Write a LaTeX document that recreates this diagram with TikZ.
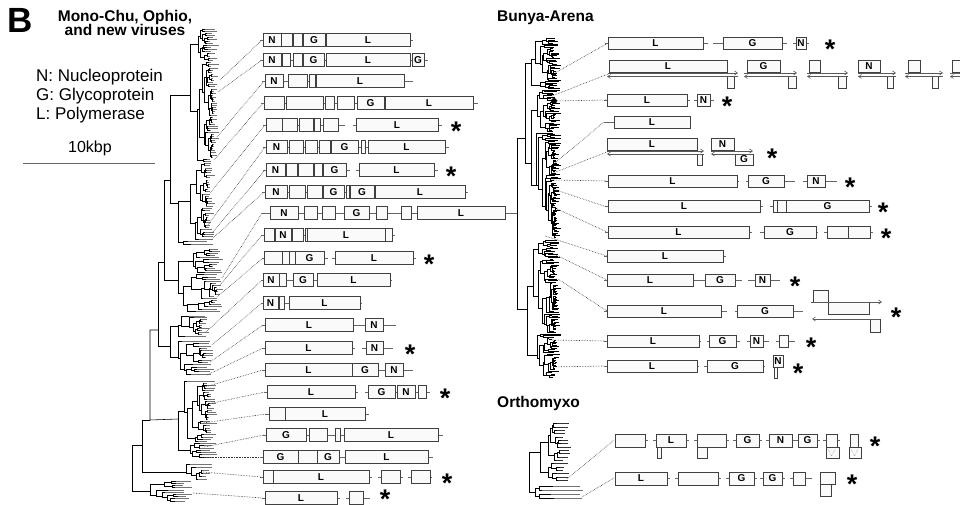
\documentclass[tikz,border=0pt]{standalone}
\usepackage{fontspec}
\setmainfont{Liberation Sans}
\usetikzlibrary{arrows.meta}
\newcount\gcnt
\def\gh{6.5}
\def\tipjit{10}
\newcommand\gbxr[5]{\global\advance\gcnt by 1\relax
  \draw[gbox] (#1,#3) rectangle (#2,#4);
  \node[glab] (g\the\gcnt) at ({(#1+#2)/2},{(#3+#4)/2}) {#5};}
\newcommand\gbx[4]{\gbxr{#1}{#2}{#3-\gh}{#3+\gh}{#4}}
\newcommand\gln[3]{\draw[gline] (#1,#3) -- (#2,#3);}
\newcommand\astr[2]{\global\advance\gcnt by 1\relax\node[astk] (a\the\gcnt) at (#1,#2) {\raisebox{-0.57em}{*}};}
% random rectangular tree: x0, ytop, ybot, leaves, tipx
\def\rclade#1#2#3#4#5{%
  \begingroup
  \ifnum#4<2\relax
    \pgfmathsetmacro\rcym{(#2+#3)/2}%
    \pgfmathsetmacro\rctx{max(#1+1.5,#5+(rnd-0.5)*\tipjit)}%
    \draw[tleaf] (#1,\rcym) -- (\rctx,\rcym);
  \else
    \pgfmathsetmacro\rcu{rnd}%
    \pgfmathtruncatemacro\rck{1+floor(\rcu*\rcu*(#4-1))}%
    \pgfmathsetmacro\rcf{rnd}%
    \ifdim\rcf pt<0.5pt \pgfmathtruncatemacro\rck{#4-\rck}\fi
    \pgfmathtruncatemacro\rcnb{#4-\rck}%
    \pgfmathsetmacro\rcys{#2+(#3-#2)*\rck/#4}%
    \pgfmathsetmacro\rcma{(#2+\rcys)/2}%
    \pgfmathsetmacro\rcmb{(\rcys+#3)/2}%
    \pgfmathsetmacro\rcxa{#1+(#5-#1)*(0.08+0.3*rnd)}%
    \pgfmathsetmacro\rcxb{#1+(#5-#1)*(0.08+0.3*rnd)}%
    \draw[tline] (\rcxa,\rcma) -- (#1,\rcma) -- (#1,\rcmb) -- (\rcxb,\rcmb);
    \edef\rcnext{\noexpand\rclade{\rcxa}{#2}{\rcys}{\rck}{#5}\noexpand\rclade{\rcxb}{\rcys}{#3}{\rcnb}{#5}}%
    \rcnext
  \fi
  \endgroup}
\tikzset{
  gbox/.style={draw=black!75, fill=black!2, line width=0.7pt},
  glab/.style={font=\fontsize{10}{10}\selectfont\bfseries, inner sep=0pt},
  gline/.style={draw=black!60, line width=0.7pt},
  garr/.style={draw=black!65, line width=0.6pt, -{Straight Barb[length=3pt,width=4pt]}},
  astk/.style={font=\fontsize{27}{27}\selectfont\bfseries, anchor=center, inner sep=0pt, text height=5pt, text depth=5pt},
  conn/.style={draw=black!80, line width=0.6pt, densely dotted},
  tline/.style={draw=black, line width=0.55pt},
  tleaf/.style={draw=black!55, line width=0.55pt},
  ttl/.style={font=\fontsize{15.5}{15.5}\selectfont\bfseries, inner sep=0pt},
  leg/.style={font=\fontsize{17}{17}\selectfont, inner sep=0pt, anchor=base west}
}
\begin{document}
\begin{tikzpicture}[x=1pt,y=-1pt]
\useasboundingbox (0,0) rectangle (960,505);
\fill[white] (0,0) rectangle (960,505);
\pgfmathsetseed{4711}
% ---------- texts ----------
\node[font=\fontsize{35}{35}\selectfont\bfseries, inner sep=0pt, anchor=base west] (B) at (7,33) {B};
\node[ttl, anchor=base] (t1) at (125,21.5) {Mono-Chu, Ophio,};
\node[ttl, anchor=base] (t2) at (125,36) {and new viruses};
\node[leg] (l1) at (36,82) {N: Nucleoprotein};
\node[leg] (l2) at (36,101) {G: Glycoprotein};
\node[leg] (l3) at (36,120) {L: Polymerase};
\node[leg, font=\fontsize{16}{16}\selectfont, anchor=base] (kb) at (90,153) {10kbp};
\coordinate (sb1) at (23,164); \coordinate (sb2) at (155,164);
\draw[black!60, line width=1pt] (sb1) -- (sb2);
\node[ttl, anchor=base west] (bt) at (497,22) {Bunya-Arena};
\node[ttl, anchor=base west] (ot) at (497,407) {Orthomyxo};
% ---------- left tree ----------
\draw[tline] (142,445) -- (132,445) -- (132,491) -- (150,491);
\rclade{150}{480}{502}{10}{188}
\draw[tline] (150,420) -- (142,420) -- (142,472) -- (186,472);
\rclade{186}{463}{481}{6}{208}
\draw[tline] (158,330) -- (150,330) -- (150,420) -- (178,419);
\rclade{178}{380}{458}{35}{212}
\draw[tline] (164,262) -- (158,262) -- (158,346) -- (170,346);
\draw[tline] (178,326) -- (170,326) -- (170,357.5) -- (178,357.5);
\rclade{178}{315}{337}{12}{205}
\rclade{178}{340}{375}{15}{210}
\draw[tline] (170,180) -- (164,180) -- (164,280) -- (178,280);
\rclade{178}{248}{312}{30}{218}
\draw[tline] (190,95) -- (170,95) -- (170,203.5) -- (178,203.5);
\rclade{190}{28}{162}{65}{214}
\rclade{178}{162}{245}{35}{210}
% ---------- Bunya tree ----------
\begin{scope}[tline/.style={draw=black, line width=0.85pt}, tleaf/.style={draw=black, line width=0.75pt}]
\draw[tline] (525,138) -- (517,138) -- (517,309) -- (527,309);
\rclade{525}{38}{238}{140}{556}
\rclade{527}{240}{378}{90}{556}
\end{scope}
% ---------- Orthomyxo tree ----------
\begin{scope}[tline/.style={draw=black, line width=0.7pt}, tleaf/.style={draw=black!80, line width=0.7pt}]
\draw[tline] (540,452) -- (529,452) -- (529,492) -- (535,492);
\rclade{540}{422}{482}{18}{566}
\end{scope}
\begin{scope}[tleaf/.style={draw=black!55, line width=1pt}]
\rclade{535}{484}{500}{4}{580}
\end{scope}
% ---------- connectors ----------
\foreach \i/\sx/\sy/\tx/\ty in {1/220/80/262/40, 2/218/92/262/60, 3/217/137/264/81,
  4/214/160/263/103, 5/210/193/265/125, 6/208/225/265/147, 7/212/233/265/170,
  8/213/238/264/192, 9/222/278/262/213, 10/220/285/262/235, 11/217/297/263/258,
  12/206/332/262/280, 13/212/345/262/303, 14/210/362/263/325, 15/207/375/263/348,
  16/205/387/263/370, 17/203/405/265/392, 18/203/423/266/414, 19/204/447/264/435,
  20/202/457/261/457, 21/203/472/261/477, 22/193/493/263/498}{
  \coordinate (ls\i) at (\sx,\sy); \coordinate (lt\i) at (\tx,\ty);
  \draw[conn] (ls\i) -- (lt\i);
}
\node[circle, fill=black, inner sep=0pt, minimum size=6pt] (bdot) at (554,101) {};
\foreach \i/\sx/\sy/\tx/\ty in {1/555/73/608/43, 2/552/96/608/74, 4/550/167/604/122,
  5/553/173/607/152, 6/553/180/607/181, 7/553/189/607/207, 8/553/207/607/232,
  9/545/236/607/256, 10/552/253/607/280, 11/558/279/607/311, 12/552/340/604/341,
  13/550/367/604/366}{
  \coordinate (rs\i) at (\sx,\sy); \coordinate (rt\i) at (\tx,\ty);
  \draw[conn] (rs\i) -- (rt\i);
}
\coordinate (rt3) at (607,100);
\draw[conn] (bdot) -- (rt3);
\coordinate (os1) at (567,479); \coordinate (ot1) at (614,440);
\coordinate (os2) at (582,497); \coordinate (ot2) at (614,478);
\draw[conn] (os1) -- (ot1); \draw[conn] (os2) -- (ot2);
% ---------- left genomes ----------
\gln{260}{413}{40}
\gbx{263}{281}{40}{N}\gbx{281}{292}{40}{}\gbx{293}{302}{40}{}\gbx{303}{325}{40}{G}\gbx{326}{410}{40}{L}
\gln{260}{428}{60}
\gbx{263}{281}{60}{N}\gbx{282}{290}{60}{}\gbx{293}{302}{60}{}\gbx{303}{324}{60}{G}\gbx{326}{410}{60}{L}\gbx{412}{424}{60}{G}
\gln{262}{413}{81}
\gbx{265}{283}{81}{N}\gbx{288}{307}{81}{}\gbx{309}{315}{81}{}\gbx{316}{404}{81}{L}
\gln{261}{478}{103}
\gbx{264}{284}{103}{}\gbx{286}{323}{103}{}\gbx{325}{334}{103}{}\gbx{337}{354}{103}{}\gbx{357}{384}{103}{G}\gbx{385}{473}{103}{L}
\gln{263}{345}{125}\gln{353}{442}{125}
\gbx{266}{282}{125}{}\gbx{282}{297}{125}{}\gbx{299}{313}{125}{}\gbx{314}{320}{125}{}\gbx{323}{338}{125}{}\gbx{356}{438}{125}{L}
\astr{456}{125}
\gln{263}{449}{147}
\gbx{266}{287}{147}{N}\gbx{289}{303}{147}{}\gbx{305}{317}{147}{}\gbx{319}{330}{147}{}\gbx{331}{358}{147}{G}\gbx{361}{365}{147}{}\gbx{368}{445}{147}{L}
\gln{263}{350}{170}\gln{356}{438}{170}
\gbx{266}{285}{170}{N}\gbx{286}{297}{170}{}\gbx{298}{313}{170}{}\gbx{314}{322}{170}{}\gbx{323}{346}{170}{G}\gbx{359}{434}{170}{L}
\astr{451}{170}
\gln{262}{468}{192}
\gbx{265}{287}{192}{N}\gbx{289}{305}{192}{}\gbx{307}{322}{192}{}\gbx{323}{344}{192}{G}\gbx{346}{349}{192}{}\gbx{350}{374}{192}{G}\gbx{375}{465}{192}{L}
\gln{262}{517}{213}
\gbx{270}{298}{213}{N}\gbx{304}{317}{213}{}\gbx{322}{335}{213}{}\gbx{344}{369}{213}{G}\gbx{376}{387}{213}{}\gbx{401}{411}{213}{}\gbx{417}{505}{213}{L}
\gln{261}{395}{235}
\gbx{264}{274}{235}{}\gbx{275}{291}{235}{N}\gbx{292}{303}{235}{}\gbx{305}{307}{235}{}\gbx{307}{385}{235}{L}\gbx{385}{392}{235}{}
\gln{262}{328}{258}\gln{332}{416}{258}
\gbx{264}{282}{258}{}\gbx{282}{289}{258}{}\gbx{289}{295}{258}{}\gbx{295}{324}{258}{G}\gbx{335}{413}{258}{L}
\astr{429}{258}
\gln{261}{392}{280}
\gbx{263}{279}{280}{N}\gbx{279}{286}{280}{}\gbx{293}{313}{280}{G}\gbx{317}{390}{280}{L}
\gln{261}{362}{303}
\gbx{263}{278}{303}{N}\gbx{279}{284}{303}{}\gbx{289}{360}{303}{L}
\gln{262}{396}{325}
\gbx{265}{353}{325}{L}\gbx{365}{383}{325}{N}
\gln{262}{355}{348}\gln{362}{393}{348}
\gbx{265}{352}{348}{L}\gbx{366}{383}{348}{N}
\astr{410}{348}
\gln{262}{413}{370}
\gbx{265}{352}{370}{L}\gbx{352}{378}{370}{G}\gbx{385}{403}{370}{N}
\gln{264}{358}{392}\gln{365}{430}{392}
\gbx{267}{355}{392}{L}\gbx{368}{395}{392}{G}\gbx{397}{415}{392}{N}\gbx{418}{426}{392}{}
\astr{445}{392}
\gln{265}{369}{414}
\gbx{269}{285}{414}{}\gbx{285}{365}{414}{L}
\gln{263}{443}{435}
\gbx{266}{306}{435}{G}\gbx{309}{327}{435}{}\gbx{335}{340}{435}{}\gbx{344}{438}{435}{L}
\gln{260}{433}{457}
\gbx{263}{298}{457}{G}\gbx{298}{317}{457}{}\gbx{317}{339}{457}{G}\gbx{345}{428}{457}{L}
\gln{260}{372}{477}\gln{378}{403}{477}\gln{408}{432}{477}
\gbx{263}{273}{477}{}\gbx{273}{369}{477}{L}\gbx{381}{400}{477}{}\gbx{411}{430}{477}{}
\astr{447}{477}
\gln{262}{340}{498}\gln{346}{370}{498}
\gbx{265}{337}{498}{L}\gbx{349}{363}{498}{}
\astr{385}{493}
% ---------- Bunya genomes ----------
\def\gh{6}
\gln{605}{708}{43}\gln{713}{787}{43}\gln{793}{809}{43}
\gbx{608}{703}{43}{L}\gbx{723}{782}{43}{G}\gbx{796}{806}{43}{N}
\astr{830}{43}
% row 2
\gbxr{609}{727}{60}{72}{L}\gbxr{727}{734}{76.5}{88}{}
\draw[garr] (608,73) -- (738,73); \draw[garr] (738,76.5) -- (607,76.5);
\gbxr{747}{780}{60}{72}{G}\gbxr{788}{796}{76.5}{88}{}
\draw[garr] (744,73) -- (797,73); \draw[garr] (797,76.5) -- (744,76.5);
\gbxr{809}{820}{60}{72}{}\gbxr{838}{846}{76.5}{88}{}
\draw[garr] (807,73) -- (848,73); \draw[garr] (848,76.5) -- (807,76.5);
\gbxr{858}{880}{60}{72}{N}\gbxr{887}{893}{76.5}{88}{}
\draw[garr] (858,73) -- (896,73); \draw[garr] (896,76.5) -- (858,76.5);
\gbxr{908}{920}{60}{72}{}\gbxr{932}{938}{76.5}{88}{}
\draw[garr] (905,73) -- (943,73); \draw[garr] (943,76.5) -- (905,76.5);
\gbxr{952}{966}{60}{72}{}
\draw[garr] (966,76.5) -- (950,76.5); \draw[gline] (950,73) -- (966,73);
% row 3
\gln{604}{690}{100}\gln{694}{714}{100}
\gbx{607}{687}{100}{L}\gbx{697}{710}{100}{N}
\astr{727}{100}
\gln{604}{691}{122}
\gbx{614}{690}{122}{L}
% row 5
\gbxr{607}{697}{138}{150}{L}\gbxr{697}{702}{154}{165}{}
\draw[garr] (607,151) -- (704,151); \draw[garr] (704,154) -- (607,154);
\gbxr{711}{734}{138}{150}{N}\gbxr{735}{753}{154}{165}{G}
\draw[garr] (711,151) -- (753,151); \draw[garr] (753,154) -- (711,154);
\astr{772}{152}
\gln{605}{739}{181}\gln{746}{795}{181}\gln{803}{837}{181}
\gbx{608}{737}{181}{L}\gbx{748}{784}{181}{G}\gbx{807}{825}{181}{N}
\astr{850}{181}
\gln{605}{763}{206}\gln{770}{872}{206}
\gbx{608}{760}{206}{L}\gbx{773}{777}{206}{}\gbx{777}{786}{206}{}\gbx{786}{869}{206}{G}
\astr{883}{206}
\gln{605}{752}{232}\gln{760}{818}{232}\gln{824}{873}{232}
\gbx{608}{749}{232}{L}\gbx{764}{816}{232}{G}\gbx{827}{848}{232}{}\gbx{848}{870}{232}{}
\astr{886}{232}
\gln{604}{726}{256}
\gbx{607}{723}{256}{L}
\gln{604}{742}{280}\gln{748}{780}{280}
\gbx{607}{693}{280}{L}\gbx{705}{735}{280}{G}\gbx{755}{770}{280}{N}
\astr{795}{280}
\gln{604}{727}{311}\gln{735}{803}{311}
\gbx{607}{721}{311}{L}\gbx{737}{793}{311}{G}
\gbxr{813}{828}{290}{302}{}\gbxr{828}{869}{302}{314}{}\gbxr{870}{880}{319}{332}{}
\draw[garr] (811,302) -- (882,302); \draw[garr] (880,319) -- (812,319);
\astr{896}{311}
\gln{604}{701}{341}\gln{707}{740}{341}\gln{747}{769}{341}\gln{776}{795}{341}
\gbx{607}{699}{341}{L}\gbx{709}{736}{341}{G}\gbx{750}{763}{341}{N}\gbx{779}{788}{341}{}
\astr{811}{341}
\gln{604}{699}{366}\gln{704}{765}{366}
\gbx{607}{697}{366}{L}\gbx{707}{763}{366}{G}
\gbxr{773}{783}{355}{367}{N}\gbxr{774}{777}{367}{378}{}
\astr{798}{367}
% ---------- Orthomyxo genomes ----------
\foreach \p/\q in {645/648, 653/656, 686/689, 694/697, 726/729, 733/736, 759/762, 766/769, 792/795, 795/798, 817/820, 823/826, 837/840}{\draw[gline] (\p,440.5) -- (\q,440.5);}
\gbxr{615}{645}{434}{447}{}
\gbxr{656}{686}{434}{447}{L}\gbxr{657}{661}{447}{458}{}
\gbxr{697}{726}{434}{447}{}\gbxr{697}{707}{447}{458}{}
\gbxr{736}{759}{434}{447}{G}\gbxr{769}{792}{434}{447}{N}\gbxr{798}{817}{434}{447}{G}
\gbxr{826}{837}{434}{447}{}\gbxr{826}{839}{447}{458}{}
\gbxr{850}{858}{434}{447}{}\gbxr{849}{861}{447}{458}{}
\draw[black!60, line width=0.4pt, densely dotted] (828,449) -- (831.5,456) -- (835,449);
\draw[black!60, line width=0.4pt, densely dotted] (851,449) -- (854.5,456) -- (858,449);
\astr{875}{440}
\foreach \p/\q in {667/670, 675/678, 718/721, 726/729, 754/757, 760/763, 782/785, 790/793, 805/812}{\draw[gline] (\p,478.5) -- (\q,478.5);}
\gbxr{615}{667}{472}{485}{L}\gbxr{678}{718}{472}{485}{}
\gbxr{729}{754}{472}{485}{G}\gbxr{763}{782}{472}{485}{G}
\gbxr{793}{805}{472}{485}{}
\gbxr{820}{835}{472}{484}{}\gbxr{820}{831}{484}{496}{}
\astr{852}{478}
\end{tikzpicture}
\end{document}
